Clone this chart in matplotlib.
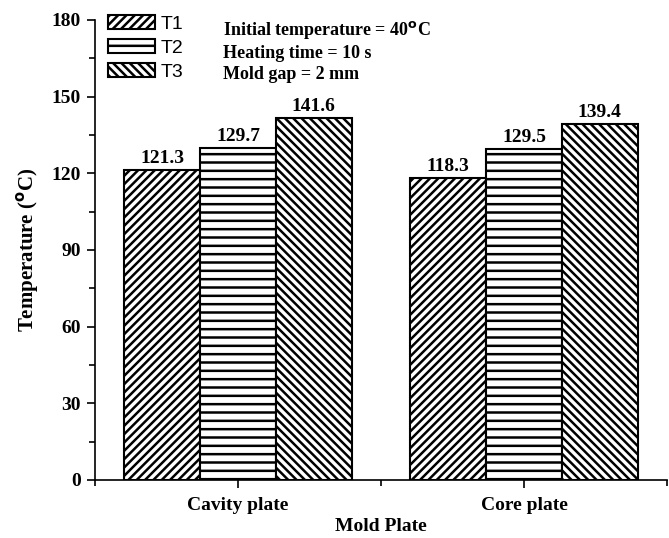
import numpy as np
import matplotlib
matplotlib.use("Agg")
import matplotlib.pyplot as plt
from matplotlib.ticker import MultipleLocator

## DATA ##
plates = ["Cavity plate", "Core plate"]
series = ["T1", "T2", "T3"]
t1 = [121.3, 118.3]
t2 = [129.7, 129.5]
t3 = [141.6, 139.4]
hatches = ["////", "--", "\\\\\\\\"]

plt.rcParams["font.family"] = ["Liberation Serif", "DejaVu Serif"]
plt.rcParams["hatch.linewidth"] = 1.8
plt.rcParams["hatch.color"] = "black"

fig = plt.figure(figsize=(6.69, 5.38), dpi=100)
ax = fig.add_axes([0.142, 0.108, 0.855, 0.855])

x = np.arange(len(plates))
w = 0.265
for i, (vals, name) in enumerate(zip([t1, t2, t3], series)):
    bars = ax.bar(x + (i - 1) * w, vals, w, color="white", edgecolor="black",
                  linewidth=1.5, hatch=hatches[i], label=name)
    for b, v in zip(bars, vals):
        ax.text(b.get_x() + b.get_width() / 2, v + 1.2, f"{v:.1f}", ha="center",
                va="bottom", fontsize=14, fontweight="bold")

## AXES STYLE ##
ax.set_xlim(-0.5, 1.5)
ax.set_ylim(0, 180)
ax.set_xticks(x)
ax.set_xticklabels(plates, fontsize=14, fontweight="bold")
ax.xaxis.set_minor_locator(MultipleLocator(0.5))
ax.yaxis.set_major_locator(MultipleLocator(30))
ax.yaxis.set_minor_locator(MultipleLocator(15))
for lbl in ax.get_yticklabels():
    lbl.set_fontsize(14)
    lbl.set_fontweight("bold")
ax.tick_params(axis="y", which="major", length=6, width=1.2, direction="out", pad=4)
ax.tick_params(axis="x", which="major", length=6, width=1.2, direction="out", pad=6)
ax.tick_params(which="minor", length=4, width=1.2, direction="out")
ax.spines["top"].set_visible(False)
ax.spines["right"].set_visible(False)
ax.spines["left"].set_linewidth(1.2)
ax.spines["bottom"].set_linewidth(1.2)

ax.set_xlabel("Mold Plate", fontsize=14, fontweight="bold", labelpad=3)
ax.set_ylabel("Temperature ($\\mathbf{^{o}}$C)", fontsize=15, fontweight="bold", labelpad=8)

leg = ax.legend(loc="upper left", bbox_to_anchor=(0.009, 1.027), frameon=False,
                handlelength=2.4, handleheight=0.72, handletextpad=0.3,
                labelspacing=0.31, borderaxespad=0,
                prop={"family": ["Liberation Sans Narrow", "Liberation Sans"], "size": 14})

ax.text(0.224, 1.002, "Initial temperature = 40$\\mathbf{^{o}}$C\nHeating time = 10 s\nMold gap = 2 mm",
        transform=ax.transAxes, ha="left", va="top", fontsize=13,
        fontweight="bold", linespacing=1.3)

fig.savefig("out.png", dpi=100)
